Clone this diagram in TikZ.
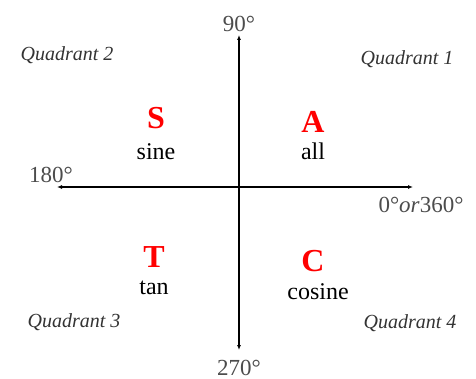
\documentclass[tikz,border=0pt]{standalone}
\usepackage{fontspec}
\setmainfont{Liberation Serif}
\usetikzlibrary{arrows.meta,positioning}

\begin{document}
\begin{tikzpicture}[x=1pt,y=-1pt,
  axis/.style={line width=1.6pt, {Latex[length=5pt,width=4pt]}-{Latex[length=5pt,width=4pt]}},
  deg/.style={inner sep=0pt, text=black!70, font=\fontsize{23}{25}\selectfont},
  quad/.style={inner sep=0pt, text=black!80, font=\fontsize{20}{22}\selectfont\itshape},
  letter/.style={inner sep=0pt, text=red, font=\fontsize{32}{34}\selectfont\bfseries},
  func/.style={inner sep=0pt, anchor=base, font=\fontsize{24}{26}\selectfont}
]
\useasboundingbox (0,0) rectangle (476,379);

% Axes
\coordinate (north) at (239,35);
\coordinate (south) at (239,350);
\coordinate (west) at (57,187);
\coordinate (east) at (413,187);
\draw[axis] (south) -- (north);
\draw[axis] (west) -- (east);

% Angle labels
\node[deg, above=3pt of north] (d90) {90°};
\node[deg, below=10pt of south] (d270) {270°};
\node[deg] (d180) at (51,175) {180°};
\node[deg] (d0) at (421,205) {0°\textit{or}360°};

% Quadrant names
\node[quad] (q1) at (407,59) {Quadrant 1};
\node[quad] (q2) at (67,55) {Quadrant 2};
\node[quad] (q3) at (74,322) {Quadrant 3};
\node[quad] (q4) at (410,323) {Quadrant 4};

% ASTC
\node[letter] (S) at (156,118) {S};
\node[func] (sine) at (156,160) {sine};
\node[letter] (A) at (313,122) {A};
\node[func] (all) at (313,160) {all};
\node[letter] (T) at (154,257) {T};
\node[func] (tan) at (154,294) {tan};
\node[letter] (C) at (313,261) {C};
\node[func] (cosine) at (318,299) {cosine};

\end{tikzpicture}
\end{document}
